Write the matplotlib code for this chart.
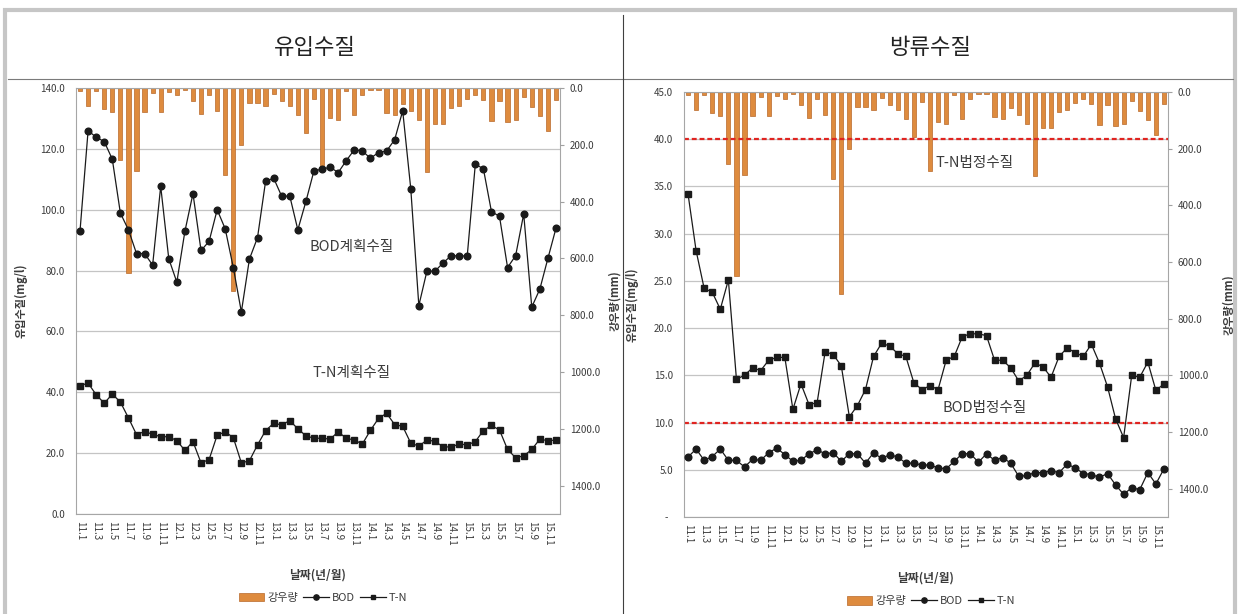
import numpy as np
import matplotlib.pyplot as plt
from matplotlib.patches import Patch, Rectangle
from matplotlib.lines import Line2D

plt.rcParams['font.family'] = ['Noto Sans CJK KR', 'DejaVu Sans']

# 월별 자료 (2011.1 ~ 2015.12)
x = np.arange(1, 61)
tick_labels = ['11.1', '11.3', '11.5', '11.7', '11.9', '11.11',
               '12.1', '12.3', '12.5', '12.7', '12.9', '12.11',
               '13.1', '13.3', '13.5', '13.7', '13.9', '13.11',
               '14.1', '14.3', '14.5', '14.7', '14.9', '14.11',
               '15.1', '15.3', '15.5', '15.7', '15.9', '15.11']

# 강우량 (mm)
rain = [9, 63, 12, 75, 85, 254, 650, 294, 86, 16, 83, 14,
        26, 8, 45, 92, 25, 82, 306, 714, 200, 54, 52, 63,
        20, 45, 64, 95, 158, 37, 280, 106, 112, 10, 95, 25,
        6, 8, 89, 96, 55, 82, 113, 295, 128, 128, 70, 63,
        40, 23, 44, 115, 46, 120, 113, 30, 66, 98, 150, 43]

# 유입수질 (mg/l)
inf_bod = [93.1, 126.0, 123.8, 122.4, 116.6, 98.9, 93.4, 85.6, 85.6, 81.8, 107.7, 83.9,
           76.2, 92.9, 105.3, 86.6, 89.6, 100.0, 93.7, 81.0, 66.4, 83.8, 90.8, 109.3,
           110.4, 104.4, 104.5, 93.4, 102.7, 112.8, 113.3, 114.0, 112.2, 116.1, 119.7, 119.3,
           116.9, 118.8, 119.3, 123.0, 132.5, 106.9, 68.5, 79.8, 79.8, 82.5, 84.9, 84.8,
           84.8, 114.9, 113.5, 99.4, 97.8, 81.0, 84.9, 98.6, 68.0, 73.9, 84.0, 93.9]
inf_tn = [42.2, 43.0, 39.2, 36.4, 39.4, 36.8, 31.6, 26.1, 27.1, 26.2, 25.4, 25.4,
          24.1, 20.9, 23.8, 16.8, 17.9, 25.9, 27.0, 25.1, 16.8, 17.5, 22.7, 27.4,
          29.8, 29.3, 30.7, 28.0, 25.7, 24.9, 24.9, 24.6, 27.0, 24.9, 24.3, 23.0,
          27.5, 31.4, 33.1, 29.4, 28.8, 23.3, 22.3, 24.3, 23.9, 22.1, 22.0, 23.0,
          22.7, 23.8, 27.4, 29.1, 27.6, 21.2, 18.5, 19.1, 21.2, 24.6, 24.1, 24.3]

# 방류수질 (mg/l)
eff_bod = [6.35, 7.2, 6.0, 6.4, 7.2, 6.0, 6.0, 5.3, 6.1, 6.0, 6.8, 7.3,
           6.6, 5.9, 6.0, 6.7, 7.1, 6.7, 6.8, 5.9, 6.7, 6.7, 5.7, 6.8,
           6.2, 6.6, 6.35, 5.7, 5.7, 5.5, 5.5, 5.2, 5.1, 5.9, 6.7, 6.7,
           5.8, 6.7, 6.0, 6.3, 5.7, 4.3, 4.4, 4.7, 4.7, 4.9, 4.7, 5.6,
           5.2, 4.6, 4.5, 4.2, 4.6, 3.4, 2.4, 3.1, 2.9, 4.7, 3.5, 5.1]
eff_tn = [34.2, 28.2, 24.2, 23.8, 22.0, 25.1, 14.6, 15.0, 15.8, 15.5, 16.6, 16.9,
          16.9, 11.4, 14.1, 11.9, 12.1, 17.5, 17.2, 16.0, 10.6, 11.8, 13.5, 17.0,
          18.4, 18.1, 17.3, 17.0, 14.2, 13.5, 13.9, 13.5, 16.6, 17.0, 19.1, 19.4,
          19.4, 19.2, 16.6, 16.6, 15.8, 14.4, 15.0, 16.3, 15.9, 14.8, 17.0, 17.9,
          17.4, 17.0, 18.3, 16.3, 13.8, 10.4, 8.4, 15.0, 14.8, 16.4, 13.4, 14.1]

bod_std, tn_std = 10, 40

W, H = 1240, 614
BAR = '#DE8B3E'
BAR_EDGE = '#B8692A'
TXT = '#3c3c3c'

fig = plt.figure(figsize=(W / 100, H / 100), dpi=100)


def box(x0, y0, x1, y1):
    return [x0 / W, 1 - y1 / H, (x1 - x0) / W, (y1 - y0) / H]


def panel(rect, bod, tn, ymax, ystep, ylabels, ylab_x, rlab_x, legend_y):
    ax = fig.add_axes(rect)
    rx = ax.twinx()
    rx.set_ylim(1500, 0)
    rx.set_yticks(np.arange(0, 1401, 200))
    rx.set_yticklabels(['%.1f' % v for v in np.arange(0, 1401, 200)])
    rx.tick_params(axis='y', length=3, color='#A0A0A0', labelsize=7, labelcolor=TXT, pad=4)
    for s in rx.spines.values():
        s.set_visible(False)

    ax.set_axisbelow(True)
    ax.yaxis.grid(True, color='#C4C4C4', lw=0.9)
    ax.bar(x, rain, width=0.52, color=BAR, edgecolor=BAR_EDGE, lw=0.5,
           transform=rx.transData, zorder=1)
    ax.plot(x, bod, color='#1a1a1a', lw=0.9, marker='o', ms=4.8, zorder=3)
    ax.plot(x, tn, color='#1a1a1a', lw=0.9, marker='s', ms=4.2, zorder=3)

    ax.set_xlim(0.5, 60.5)
    ax.set_ylim(0, ymax)
    yt = np.arange(0, ymax + 0.1, ystep)
    ax.set_yticks(yt)
    ax.set_yticklabels(ylabels)
    ax.set_xticks(x[::2])
    ax.set_xticklabels(tick_labels, rotation=270)
    ax.tick_params(axis='y', length=0, labelsize=7, labelcolor=TXT, pad=8)
    ax.tick_params(axis='x', length=0, labelsize=7, labelcolor=TXT, pad=5)
    for s in ax.spines.values():
        s.set_color('#A6A6A6')
        s.set_linewidth(0.8)

    ax.set_xlabel('날짜(년/월)', fontsize=8.5, fontweight='bold', color=TXT)
    ax.xaxis.set_label_coords(0.5, -0.128)
    ax.set_ylabel('유입수질(mg/l)', fontsize=8, fontweight='bold', color=TXT)
    ax.yaxis.set_label_coords(ylab_x, 0.5)
    rx.set_ylabel('강우량(mm)', fontsize=8, fontweight='bold', color=TXT, rotation=90)
    rx.yaxis.set_label_coords(rlab_x, 0.5)

    handles = [Patch(facecolor=BAR, edgecolor=BAR_EDGE, lw=0.5),
               Line2D([], [], color='#1a1a1a', lw=0.9, marker='o', ms=3.8),
               Line2D([], [], color='#1a1a1a', lw=0.9, marker='s', ms=3.4)]
    ax.legend(handles, ['강우량', 'BOD', 'T-N'], loc='center', bbox_to_anchor=(0.51, legend_y),
              ncol=3, frameon=False, fontsize=8, handlelength=2.3, handleheight=0.8,
              columnspacing=0.5, handletextpad=0.25, labelcolor=TXT)
    return ax


# 유입수질
axl = panel(box(76, 88, 560, 514), inf_bod, inf_tn, 140, 20,
            ['%.1f' % v for v in np.arange(0, 141, 20)], -0.101, 1.099, -0.197)
axl.text(34.7, 87.7, 'BOD계획수질', fontsize=10.5, ha='center', va='center', color=TXT)
axl.text(34.7, 46.3, 'T-N계획수질', fontsize=10.5, ha='center', va='center', color=TXT)

# 방류수질
axr = panel(box(684, 92, 1168, 517), eff_bod, eff_tn, 45, 5,
            ['-  '] + ['%.1f' % v for v in np.arange(5, 46, 5)], -0.094, 1.112, -0.198)
axr.axhline(tn_std, color='#E02420', lw=1.6, ls=(0, (2.2, 1.3)), zorder=2)
axr.axhline(bod_std, color='#E02420', lw=1.6, ls=(0, (2.2, 1.3)), zorder=2)
axr.text(36.5, 37.5, 'T-N법정수질', fontsize=10.5, ha='center', va='center', color=TXT)
axr.text(37.8, 11.5, 'BOD법정수질', fontsize=10.5, ha='center', va='center', color=TXT)

# 표 테두리 / 머리글
fig.add_artist(Rectangle((5 / W, -0.05), 1230 / W, 1.05 - 10 / H, transform=fig.transFigure,
                         fill=False, ec='#C6C6C6', lw=3))
fig.add_artist(Line2D([8 / W, 1233 / W], [1 - 79 / H] * 2, color='#7a7a7a', lw=0.8))
fig.add_artist(Line2D([623 / W] * 2, [1 - 15 / H, 0], color='#404040', lw=0.8))
fig.text(315 / W, 1 - 47 / H, '유입수질', fontsize=16, ha='center', va='center', color='#222222')
fig.text(930 / W, 1 - 47 / H, '방류수질', fontsize=16, ha='center', va='center', color='#222222')

fig.savefig('out.png', dpi=100)
